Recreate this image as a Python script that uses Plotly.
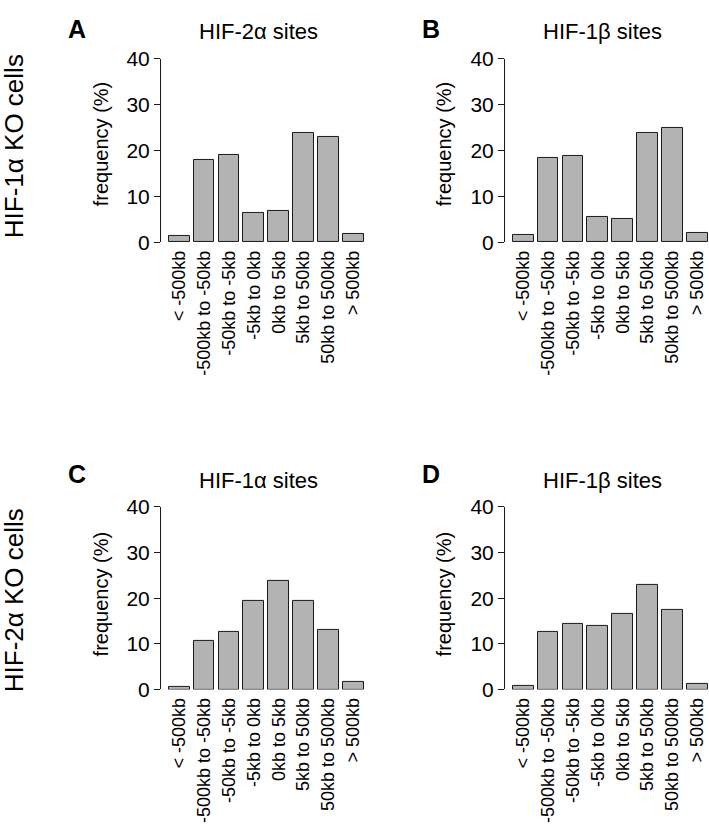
import plotly.graph_objects as go

bins = ["< -500kb", "-500kb to -50kb", "-50kb to -5kb", "-5kb to 0kb",
        "0kb to 5kb", "5kb to 50kb", "50kb to 500kb", "> 500kb"]

hif2a_in_1a_ko = [1.4, 18.0, 19.0, 6.4, 6.8, 23.9, 22.9, 1.8]
hif1b_in_1a_ko = [1.6, 18.4, 18.8, 5.6, 5.0, 23.9, 25.0, 1.9]
hif1a_in_2a_ko = [0.6, 10.7, 12.7, 19.3, 23.7, 19.3, 13.1, 1.6]
hif1b_in_2a_ko = [0.85, 12.7, 14.4, 13.9, 16.6, 23.0, 17.4, 1.15]

panel_letters = ["A", "B", "C", "D"]
panel_titles = ["HIF-2α sites", "HIF-1β sites", "HIF-1α sites", "HIF-1β sites"]
row_labels = ["HIF-1α KO cells", "HIF-2α KO cells"]

W, H = 709, 831
FONT = "Liberation Sans, Arial, Helvetica, sans-serif"
FILL = "#b3b3b3"


def px_x(p):
    return p / W


def px_y(p):
    return 1 - p / H


# pixel layout of each panel: (axis x, plot right, y of 40, y of 0)
panels = [
    (hif2a_in_1a_ko, 161, 364.5, 48.3, 236.7),
    (hif1b_in_1a_ko, 505, 708.5, 48.3, 236.7),
    (hif1a_in_2a_ko, 161, 364.5, 509.0, 696.7),
    (hif1b_in_2a_ko, 505, 708.5, 509.0, 696.7),
]

fig = go.Figure()
annotations = []

for i, (vals, x0, x1, ytop, ybot) in enumerate(panels):
    n = "" if i == 0 else str(i + 1)
    fig.add_trace(
        go.Bar(
            x=bins,
            y=vals,
            width=0.8333,
            marker={"color": FILL, "line": {"color": "#1a1a1a", "width": 1}},
            xaxis="x" + n,
            yaxis="y" + n,
            showlegend=False,
        )
    )
    fig.layout["xaxis" + n] = dict(
        domain=[px_x(x0), px_x(x1)],
        anchor="y" + n,
        range=[-0.73, 7.45],
        showline=False,
        showgrid=False,
        zeroline=False,
        ticks="",
        tickangle=-90,
        ticklabelstandoff=4,
        tickfont={"size": 18, "color": "black", "family": FONT},
    )
    fig.layout["yaxis" + n] = dict(
        domain=[px_y(ybot), px_y(ytop)],
        anchor="x" + n,
        range=[0, 40],
        tickvals=[0, 10, 20, 30, 40],
        showline=True,
        linecolor="#1a1a1a",
        linewidth=1,
        ticks="outside",
        ticklen=6,
        tickcolor="#1a1a1a",
        showgrid=False,
        zeroline=False,
        tickfont={"size": 21, "color": "black", "family": FONT},
    )

    left = i % 2 == 0
    top = i < 2
    letter_x = 77 if left else 431
    letter_y = 17 if top else 475
    title_x = 258 if left else 602
    title_y = 20 if top else 482
    lab_x = 101 if left else 444
    lab_y = 136 if top else 599

    annotations.append(dict(
        text="<b>" + panel_letters[i] + "</b>", x=px_x(letter_x), y=px_y(letter_y),
        xref="paper", yref="paper", showarrow=False,
        xanchor="center", yanchor="middle",
        font={"size": 25, "color": "black", "family": FONT},
    ))
    annotations.append(dict(
        text=panel_titles[i], x=px_x(title_x), y=px_y(title_y),
        xref="paper", yref="paper", showarrow=False,
        xanchor="center", yanchor="middle",
        font={"size": 22, "color": "black", "family": FONT},
    ))
    annotations.append(dict(
        text="frequency (%)", x=px_x(lab_x), y=px_y(lab_y), textangle=-90,
        xref="paper", yref="paper", showarrow=False,
        xanchor="center", yanchor="middle",
        font={"size": 20, "color": "black", "family": FONT},
    ))

for label, yc in zip(row_labels, [138, 605]):
    annotations.append(dict(
        text=label, x=px_x(14), y=px_y(yc), textangle=-90,
        xref="paper", yref="paper", showarrow=False,
        xanchor="center", yanchor="middle",
        font={"size": 26, "color": "black", "family": FONT},
    ))

fig.update_layout(
    width=W,
    height=H,
    margin={"l": 0, "r": 0, "t": 0, "b": 0},
    paper_bgcolor="white",
    plot_bgcolor="white",
    annotations=annotations,
    bargap=0,
)

# drop the browser's default body margin so the figure sits at the page corner
fig.write_html(
    "out.html",
    config={"displayModeBar": False},
    post_script="document.body.style.margin = '0';",
)
